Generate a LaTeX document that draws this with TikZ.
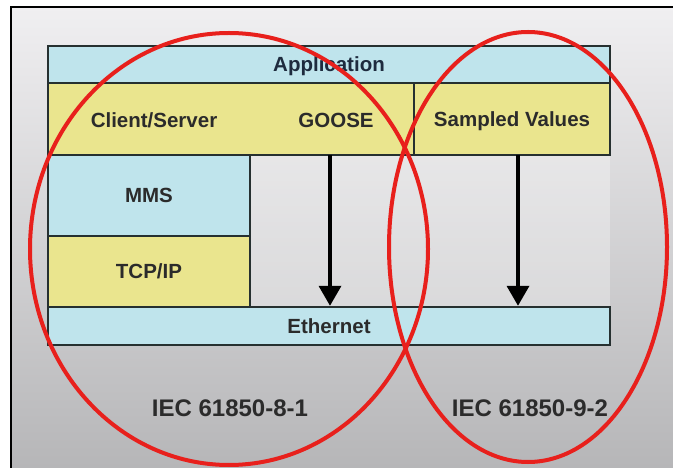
\documentclass[tikz,border=0pt]{standalone}
\usepackage{fontspec}
\setmainfont{Liberation Sans}
\usetikzlibrary{arrows.meta}
\definecolor{layerblue}{HTML}{BFE4EC}
\definecolor{layeryellow}{HTML}{EAE58E}
\definecolor{edgegray}{HTML}{263030}
\definecolor{inkgray}{HTML}{2B2B2B}
\definecolor{appink}{HTML}{1E2B3E}
\definecolor{ringred}{HTML}{E8201C}
\definecolor{bgtop}{HTML}{F0EFF1}
\definecolor{bgbottom}{HTML}{B6B6B8}
\tikzset{
  layer/.style={draw=edgegray, line width=2.4bp, rectangle, inner sep=0pt},
  bluelayer/.style={layer, fill=layerblue},
  yellowlayer/.style={layer, fill=layeryellow},
  lbl/.style={font=\bfseries\fontsize{20.5bp}{24bp}\selectfont, text=inkgray, inner sep=0pt},
  stdlbl/.style={font=\bfseries\fontsize{24bp}{28bp}\selectfont, text=inkgray, inner sep=0pt},
  flow/.style={draw=black, line width=3.6bp, -{Triangle[width=22bp,length=20bp]}},
  ring/.style={draw=ringred, line width=4bp},
}
\begin{document}
\begin{tikzpicture}[x=1bp, y=-1bp]
\useasboundingbox (0,0) rectangle (673,468);
% backdrop and frame
\fill[white] (0,0) rectangle (673,468);
\shade[top color=bgtop, bottom color=bgbottom] (10.5,7) rectangle (673,468);
\fill[white, opacity=0.3] (250,155) rectangle (610,307);
\draw[black, line width=2bp] (10.5,468) -- (10.5,7) -- (673,7);

% protocol stack
\node[bluelayer, minimum width=562bp, minimum height=37bp] (app) at (329,64.5) {};
\node[lbl, text=appink] (applbl) at (329,66.5) {Application};
\node[yellowlayer, minimum width=366bp, minimum height=72bp] (cs) at (231,119) {};
\node[yellowlayer, minimum width=196bp, minimum height=72bp] (sv) at (512,119) {};
\node[bluelayer, minimum width=202bp, minimum height=81bp] (mms) at (149,195.5) {};
\node[yellowlayer, minimum width=202bp, minimum height=71bp] (tcp) at (149,271.5) {};
\node[bluelayer, minimum width=562bp, minimum height=38bp] (eth) at (329,326) {};

\node[lbl] (cslbl) at (154,120) {Client/Server};
\node[lbl] (gooselbl) at (336,120) {GOOSE};
\node[lbl] (svlbl) at (512,121.5) {Sampled Values};
\node[lbl] (mmslbl) at (mms.center) {MMS};
\node[lbl] (tcplbl) at (tcp.center) {TCP/IP};
\node[lbl] (ethlbl) at (eth.center) {Ethernet};

% message paths down to Ethernet
\coordinate (gooseout) at (330,155);
\coordinate (svout) at (518,155);
\draw[flow] (gooseout) -- (gooseout |- eth.north);
\draw[flow] (svout) -- (svout |- eth.north);

% standard names
\node[stdlbl] (std81) at (230,408) {IEC 61850-8-1};
\node[stdlbl] (std92) at (530,408) {IEC 61850-9-2};

% scope rings
\draw[ring] (229,249) ellipse [x radius=199, y radius=216];
\draw[ring] (528,247) ellipse [x radius=139, y radius=215];
\end{tikzpicture}
\end{document}
